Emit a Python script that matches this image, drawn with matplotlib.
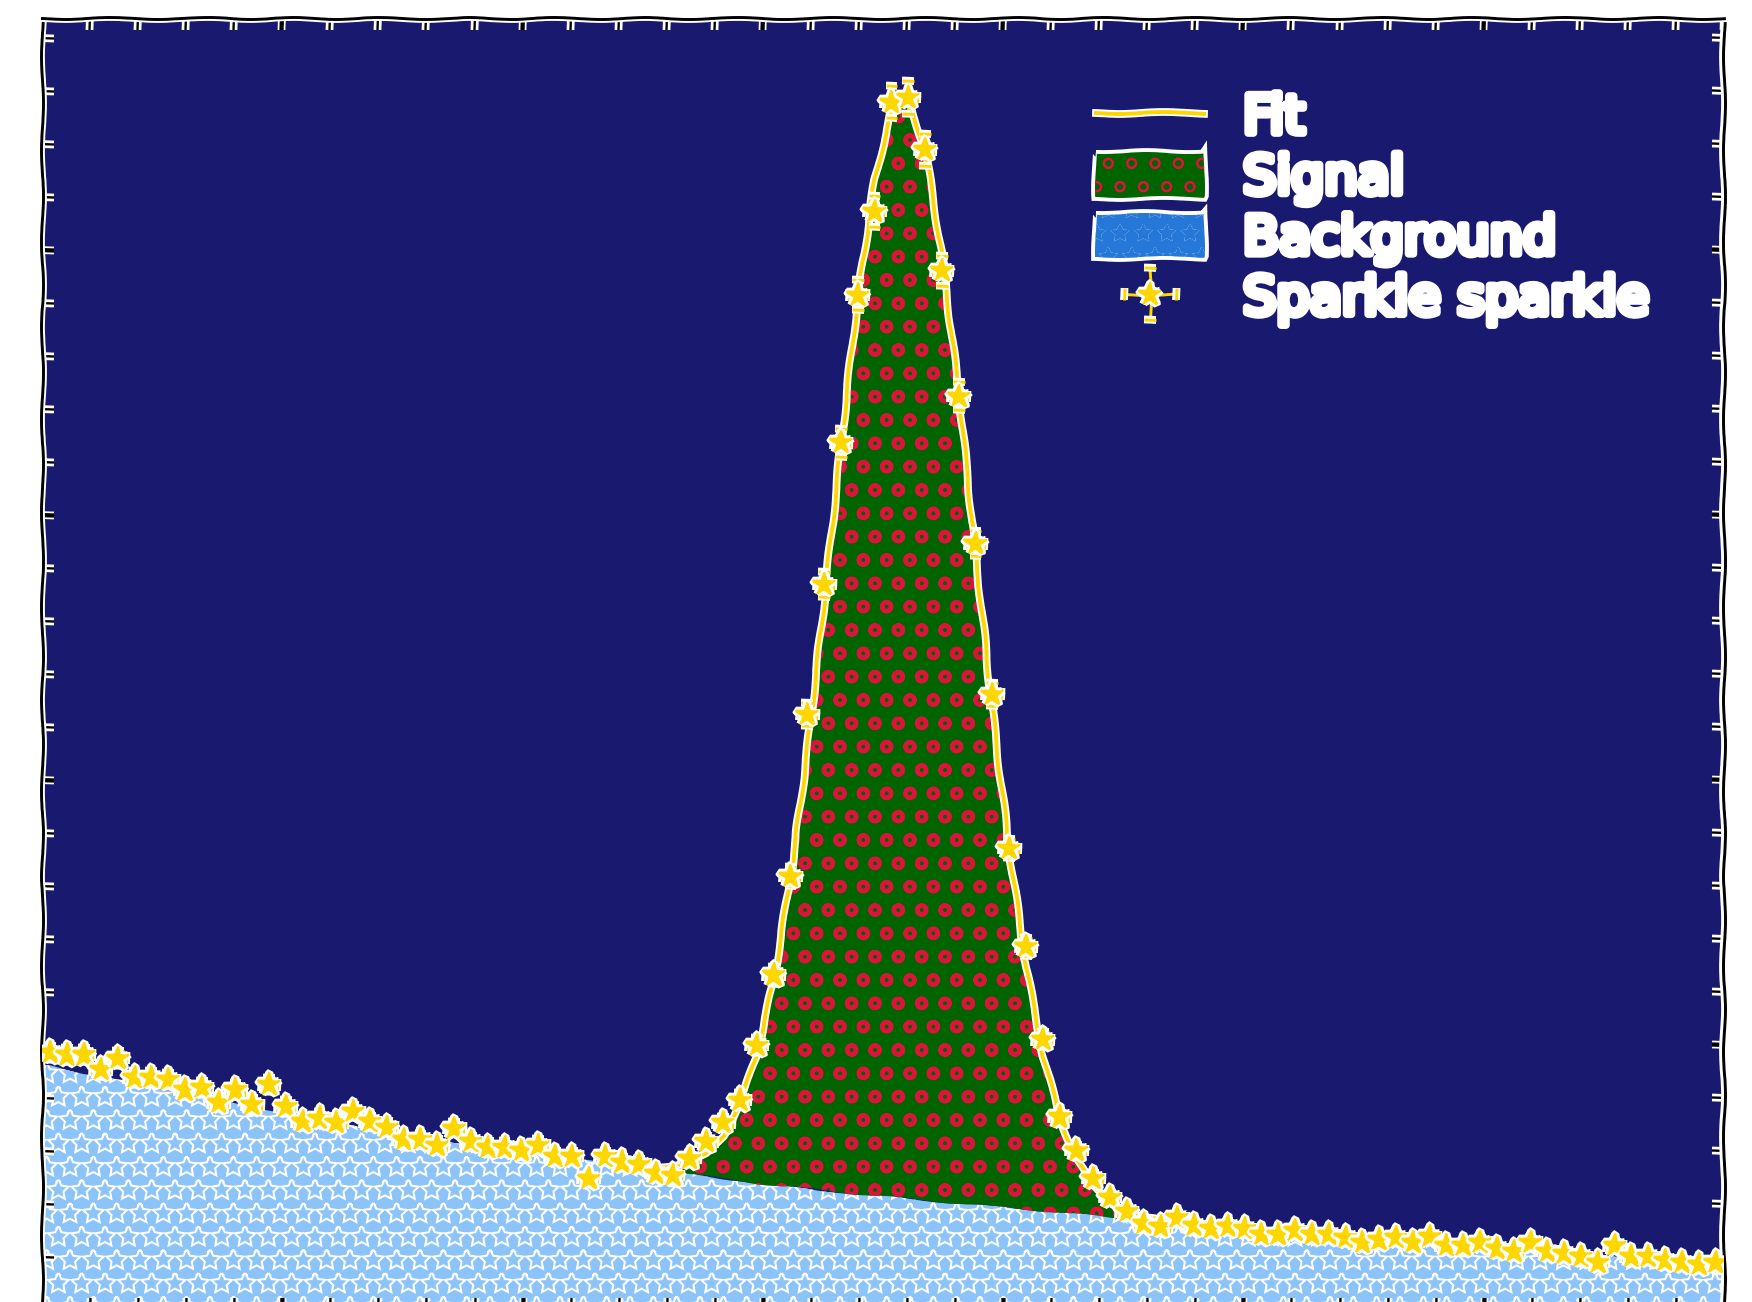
import numpy as np
import matplotlib
matplotlib.use("Agg")
import matplotlib.pyplot as plt
from matplotlib.patches import Patch
from matplotlib.ticker import MultipleLocator
from matplotlib.legend_handler import HandlerTuple

# 100 bins spanning [0, 140]
edges = np.linspace(0, 140, 101)
x = 0.5 * (edges[:-1] + edges[1:])

# smooth background model per bin
background = [
    46.0, 45.3, 44.7, 44.1, 43.4, 42.8, 42.1, 41.5, 40.8, 40.2,
    39.5, 38.9, 38.4, 37.8, 37.2, 36.6, 36.1, 35.5, 35.0, 34.4,
    33.9, 33.3, 32.8, 32.2, 31.7, 31.3, 30.8, 30.3, 29.9, 29.4,
    28.9, 28.5, 28.1, 27.7, 27.3, 26.9, 26.5, 26.0, 25.6, 25.2,
    24.8, 24.4, 23.9, 23.5, 23.2, 22.9, 22.5, 22.2, 21.9, 21.6,
    21.3, 21.0, 20.7, 20.4, 20.1, 19.8, 19.5, 19.3, 19.0, 18.7,
    18.4, 18.1, 17.8, 17.5, 17.3, 17.0, 16.7, 16.4, 16.1, 15.8,
    15.5, 15.3, 15.0, 14.8, 14.5, 14.2, 14.0, 13.7, 13.5, 13.2,
    12.9, 12.7, 12.4, 12.2, 12.0, 11.8, 11.5, 11.3, 11.1, 10.9,
    10.7, 10.5, 10.3, 10.1, 9.9, 9.7, 9.5, 9.3, 9.1, 8.9,
]

# peak component per bin
signal = [
    0.0, 0.0, 0.0, 0.0, 0.0, 0.0, 0.0, 0.0, 0.0, 0.0,
    0.0, 0.0, 0.0, 0.0, 0.0, 0.0, 0.0, 0.0, 0.0, 0.0,
    0.0, 0.0, 0.0, 0.0, 0.0, 0.0, 0.0, 0.0, 0.0, 0.0,
    0.0, 0.0, 0.0, 0.0, 0.0, 0.2, 0.5, 1.0, 2.2, 4.3,
    8.1, 14.5, 24.3, 38.7, 58.3, 82.8, 111.2, 141.1, 169.2, 191.6,
    205.1, 207.5, 198.3, 179.0, 152.8, 123.2, 93.8, 67.5, 45.9, 29.5,
    17.9, 10.3, 5.6, 2.9, 1.4, 0.6, 0.3, 0.0, 0.0, 0.0,
    0.0, 0.0, 0.0, 0.0, 0.0, 0.0, 0.0, 0.0, 0.0, 0.0,
    0.0, 0.0, 0.0, 0.0, 0.0, 0.0, 0.0, 0.0, 0.0, 0.0,
    0.0, 0.0, 0.0, 0.0, 0.0, 0.0, 0.0, 0.0, 0.0, 0.0,
]

# measured counts per bin
counts = [
    48.5, 48.1, 48.1, 45.3, 47.5, 43.8, 43.8, 43.4, 41.5, 41.9,
    39.1, 41.5, 38.7, 42.5, 38.3, 35.5, 36.2, 35.3, 37.4, 35.5,
    34.5, 32.1, 32.1, 31.1, 34.3, 31.7, 30.7, 30.7, 30.0, 31.1,
    29.0, 29.0, 24.8, 29.0, 27.9, 27.5, 25.8, 25.4, 28.6, 31.7,
    35.3, 39.6, 49.9, 63.2, 81.8, 112.4, 136.9, 163.6, 191.5, 207.3,
    227.9, 228.8, 218.9, 196.1, 172.4, 144.6, 116.2, 87.1, 68.5, 51.0,
    36.4, 30.1, 24.8, 21.2, 18.5, 16.3, 15.7, 17.4, 15.9, 15.3,
    15.7, 15.3, 14.2, 14.2, 14.9, 14.2, 14.2, 13.6, 12.8, 13.2,
    13.6, 12.8, 13.8, 12.1, 12.1, 12.8, 11.5, 11.1, 12.8, 11.1,
    10.6, 10.0, 9.0, 12.1, 10.0, 10.0, 9.4, 9.0, 8.5, 9.0,
]
err_scale = 0.2          # scaled Poisson error on the counts
count_xerr = 0.7         # half a bin

labels = ["Fit", "Signal", "Background", "Sparkle sparkle"]

plt.xkcd()
plt.rcParams["font.family"] = "DejaVu Sans"

bg = np.asarray(background)
sig = np.asarray(signal)
fit = bg + sig
cnt = np.asarray(counts)

SKY = "#8cc4fa"
LEG_BLUE = "#2678d8"


def with_hatch_lw(lw, factory):
    """Create an artist with a given hatch line width."""
    with plt.rc_context({"hatch.linewidth": lw}):
        art = factory()
    if hasattr(art, "set_hatch_linewidth"):
        art.set_hatch_linewidth(lw)
    return art


fig = plt.figure(figsize=(1752 / 140, 1302 / 140), dpi=140)
ax = fig.add_axes([42 / 1752, 1 - 1310 / 1302, 1682 / 1752, 1292 / 1302])
ax.set_facecolor("midnightblue")

# background fill reaches both axis edges; hollow star hatching is built
# from a thick white star layer with a thin sky-blue star layer on top
xb = np.r_[edges[0], x, edges[-1]]
yb = np.r_[bg[0], bg, bg[-1]]
with_hatch_lw(2.4, lambda: ax.fill_between(
    xb, 0, yb, facecolor=SKY, edgecolor="white", hatch="*",
    linewidth=0, zorder=1))
inner = with_hatch_lw(0.3, lambda: ax.fill_between(
    xb, 0, yb, facecolor="none", edgecolor=SKY, hatch="*",
    linewidth=0, zorder=1.1))
inner.set_path_effects([])

with_hatch_lw(2.2, lambda: ax.fill_between(
    x, bg, fit, where=sig > 0, facecolor="darkgreen",
    edgecolor="crimson", hatch="o", linewidth=0, zorder=2))

# the fit curve is drawn across the peak region
peak = np.convolve(sig > 0, [1, 1, 1], mode="same") > 0
fit_line, = ax.plot(x[peak], fit[peak], color="gold", lw=2, zorder=3)
eb = ax.errorbar(x, cnt, yerr=err_scale * np.sqrt(cnt), xerr=count_xerr,
                 fmt="*", color="gold", ecolor="gold", ms=12, mec="gold",
                 elinewidth=1.5, capsize=3, capthick=1.5, zorder=4)

ax.set_xlim(edges[0], edges[-1])
ax.set_ylim(0, 243.8)
ax.xaxis.set_major_locator(MultipleLocator(20))
ax.xaxis.set_minor_locator(MultipleLocator(4))
ax.yaxis.set_major_locator(MultipleLocator(50))
ax.yaxis.set_minor_locator(MultipleLocator(10))
ax.tick_params(which="both", direction="in", top=True, right=True,
               labelbottom=False, labelleft=False, colors="black")
ax.tick_params(which="major", length=6, width=2.2)
ax.tick_params(which="minor", length=6, width=1.2)

sig_patch = with_hatch_lw(2.2, lambda: Patch(
    facecolor="darkgreen", edgecolor="crimson", hatch="o", linewidth=0))
bkg_patch = with_hatch_lw(2.8, lambda: Patch(
    facecolor=LEG_BLUE, edgecolor="white", hatch="*", linewidth=0))
bkg_inner = with_hatch_lw(0.3, lambda: Patch(
    facecolor="none", edgecolor=LEG_BLUE, hatch="*", linewidth=0))
bkg_inner.set_path_effects([])

leg = ax.legend([fit_line, sig_patch, (bkg_patch, bkg_inner), eb], labels,
                handler_map={tuple: HandlerTuple(ndivide=1)},
                loc="upper right", bbox_to_anchor=(0.968, 0.959),
                borderaxespad=0, frameon=False, fontsize=27,
                labelcolor="white", handlelength=2.05, handleheight=0.9,
                handletextpad=0.75, labelspacing=0.16)

fig.savefig("out.png", dpi=140)
